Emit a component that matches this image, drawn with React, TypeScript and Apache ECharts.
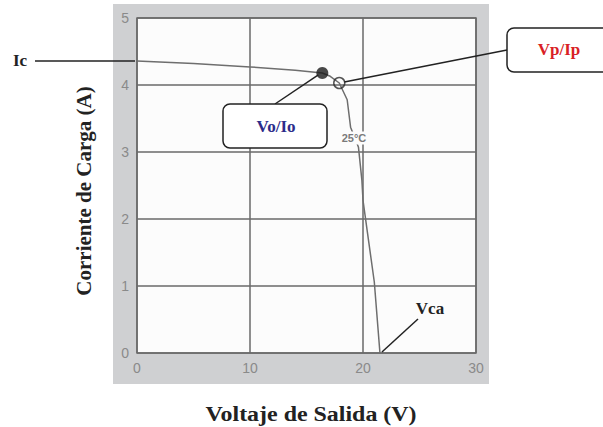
import React, { useEffect, useRef } from "react";
import * as echarts from "echarts";

// I-V curve of the module at 25°C
const voltage = [0, 5, 10, 14, 16.4, 17.1, 17.9, 18.6, 18.9, 19.3, 19.6, 19.9, 20.0, 20.4, 21.0, 21.5];
const current = [4.36, 4.32, 4.27, 4.22, 4.18, 4.13, 4.03, 3.78, 3.37, 3.2, 3.07, 2.58, 2.28, 1.79, 1.06, 0];

// Operating point and maximum power point
const operatingPoint = [16.4, 4.18];
const maxPowerPoint = [17.9, 4.03];
const shortCircuit = [0, 4.36];
const openCircuit = [21.5, 0];

const xTicks = [0, 10, 20, 30];
const yTicks = [0, 1, 2, 3, 4, 5];

const xTitle = "Voltaje de Salida (V)";
const yTitle = "Corriente de Carga (A)";

const serif = "'Liberation Serif', 'Times New Roman', serif";
const sans = "'Liberation Sans', Arial, sans-serif";

export default function App() {
  const ref = useRef<HTMLDivElement>(null);

  useEffect(() => {
    if (!ref.current) return;
    const chart = echarts.init(ref.current, undefined, { renderer: "svg" });

    chart.setOption({
      animation: false,
      backgroundColor: "#ffffff",
      grid: {
        left: 137,
        top: 18,
        width: 339,
        height: 335,
        show: true,
        backgroundColor: "#fcfcfc",
        borderColor: "#6a6a6a",
        borderWidth: 1.5,
      },
      xAxis: {
        type: "value",
        min: xTicks[0],
        max: xTicks[xTicks.length - 1],
        interval: 10,
        axisLine: { show: false },
        axisTick: { show: false },
        axisLabel: { color: "#8a8a8a", fontFamily: sans, fontSize: 14, margin: 8 },
        splitLine: { show: true, lineStyle: { color: "#6a6a6a", width: 1.5 } },
      },
      yAxis: {
        type: "value",
        min: yTicks[0],
        max: yTicks[yTicks.length - 1],
        interval: 1,
        axisLine: { show: false },
        axisTick: { show: false },
        axisLabel: { color: "#8a8a8a", fontFamily: sans, fontSize: 14, margin: 8 },
        splitLine: { show: true, lineStyle: { color: "#6a6a6a", width: 1.5 } },
      },
      series: [
        {
          type: "line",
          data: voltage.map((v, i) => [v, current[i]]),
          showSymbol: false,
          lineStyle: { color: "#6e6e6e", width: 1.5 },
          z: 3,
        },
        {
          type: "scatter",
          data: [operatingPoint],
          symbolSize: 12,
          itemStyle: { color: "#1a1a1a" },
          z: 5,
        },
        {
          type: "scatter",
          data: [maxPowerPoint],
          symbolSize: 11,
          itemStyle: { color: "rgba(255,255,255,0)", borderColor: "#2a2a2a", borderWidth: 1.5 },
          z: 5,
        },
      ],
    });

    const op = chart.convertToPixel({ gridIndex: 0 }, operatingPoint);
    const mpp = chart.convertToPixel({ gridIndex: 0 }, maxPowerPoint);
    const isc = chart.convertToPixel({ gridIndex: 0 }, shortCircuit);
    const voc = chart.convertToPixel({ gridIndex: 0 }, openCircuit);

    const lead = { stroke: "#222", lineWidth: 1.5 };
    const box = { fill: "#ffffff", stroke: "#222", lineWidth: 1.5 };

    chart.setOption({
      graphic: [
        // outer gray panel behind the plot
        { type: "rect", z: -10, shape: { x: 113, y: 4, width: 376, height: 380 }, style: { fill: "#cfd0d2" } },
        // axis titles
        { type: "text", z: 100, x: 311, y: 414, scaleX: 1.14, style: { text: xTitle, font: `bold 21px ${serif}`, fill: "#222", align: "center", verticalAlign: "middle" } },
        { type: "text", z: 100, x: 84, y: 191, rotation: Math.PI / 2, style: { text: yTitle, font: `bold 21px ${serif}`, fill: "#222", align: "center", verticalAlign: "middle" } },
        // Ic
        { type: "line", z: 100, shape: { x1: 35, y1: isc[1], x2: isc[0] - 2, y2: isc[1] }, style: lead },
        { type: "text", z: 100, x: 13, y: isc[1], style: { text: "Ic", font: `bold 17px ${serif}`, fill: "#222", verticalAlign: "middle" } },
        // Vo/Io
        { type: "line", z: 100, shape: { x1: 275, y1: 104, x2: op[0] - 4, y2: op[1] + 2 }, style: lead },
        { type: "rect", z: 100, shape: { x: 223, y: 104, width: 104, height: 44, r: 7 }, style: box },
        { type: "text", z: 101, x: 276, y: 126, style: { text: "Vo/Io", font: `bold 17px ${serif}`, fill: "#2c2c8a", align: "center", verticalAlign: "middle" } },
        // Vp/Ip
        { type: "line", z: 100, shape: { x1: 507, y1: 50, x2: mpp[0] + 5, y2: mpp[1] - 1 }, style: lead },
        { type: "rect", z: 100, shape: { x: 507, y: 28, width: 110, height: 44, r: 7 }, style: box },
        { type: "text", z: 101, x: 559, y: 49, style: { text: "Vp/Ip", font: `bold 17px ${serif}`, fill: "#d91f26", align: "center", verticalAlign: "middle" } },
        // temperature tag on the curve
        { type: "text", z: 100, x: 354, y: 138, style: { text: "25°C", font: `bold 11px ${sans}`, fill: "#7a7a7a", align: "center", verticalAlign: "middle", backgroundColor: "#fcfcfc", padding: [1, 1] } },
        // Vca
        { type: "line", z: 100, shape: { x1: 418, y1: 319, x2: voc[0] + 2, y2: voc[1] - 1 }, style: lead },
        { type: "text", z: 100, x: 430, y: 308, style: { text: "Vca", font: `bold 17px ${serif}`, fill: "#222", align: "center", verticalAlign: "middle" } },
      ],
    });

    return () => chart.dispose();
  }, []);

  return <div ref={ref} style={{ position: "fixed", left: 0, top: 0, width: 603, height: 427 }} />;
}
